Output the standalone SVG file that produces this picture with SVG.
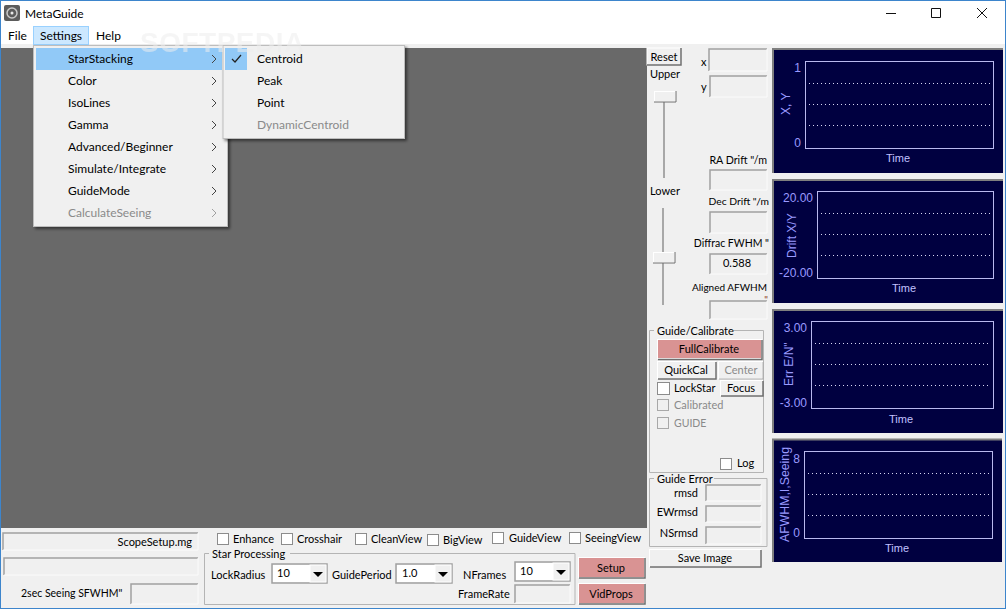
<svg xmlns="http://www.w3.org/2000/svg" width="1006" height="609" viewBox="0 0 1006 609">
<style>
text{font-family:"Lato","Noto Sans","Liberation Sans",sans-serif;font-size:11px;fill:#000}
.m{font-size:12px}
.dis{fill:#8a8a8a}
.e{text-anchor:end}
.c{text-anchor:middle}
.sunk{fill:none;stroke:#a0a0a0;stroke-width:1.5}
.hi{fill:none;stroke:#fbfbfb}
.btn{fill:#f0f0f0;stroke:#fff}
.red{fill:#d99393;stroke:#fff}
.sh{fill:none;stroke:#6e6e6e;stroke-width:1.5}
.grp{fill:none;stroke:#b4b4b4}
.cb{fill:#fff;stroke:#8c8c8c}
.cbd{fill:#f0f0f0;stroke:#a8a8a8}
.pan{fill:#000040}
.pb{fill:none;stroke:#b9b9ee}
.dot{stroke:#d8d8f4;stroke-width:1;stroke-dasharray:1 3}
.ct{font-family:"Liberation Sans",sans-serif;font-size:12px;fill:#9a9aff}
.tm{fill:#c2c2ff;font-size:11px}
.frame{fill:none;stroke:#7f7f7f;stroke-width:2}
.trk{stroke:#a8a8a8;stroke-width:2}
.chev{fill:none;stroke:#444;stroke-width:1}
.arr{fill:#000}
</style>
<defs>
<filter id="sd" x="-5%" y="-5%" width="112%" height="112%"><feDropShadow dx="2" dy="2" stdDeviation="1.5" flood-color="#000" flood-opacity=".5"/></filter>
</defs>
<rect width="1006" height="609" fill="#f0f0f0"/>
<rect x="0" y="0" width="1006" height="44" fill="#fff"/>
<rect x="1" y="48" width="646" height="480" fill="#696969"/>
<rect x=".5" y=".5" width="1005" height="608" fill="none" stroke="#3d85cc"/>
<g id="titlebar">
<rect x="4" y="5" width="16" height="16" rx="2" fill="#5c5c5c"/><circle cx="12" cy="13" r="5" fill="none" stroke="#c9c9c9" stroke-width="1.5"/><circle cx="12" cy="13" r="1.5" fill="#e8e8e8"/>
<text x="25" y="18" style="font-size:12px">MetaGuide</text>
<path d="M886 13.500H896M931.500 8.500H940.500V17.500H931.500ZM977 8L987 18M987 8L977 18" fill="none" stroke="#111" stroke-width="1"/>
</g>
<g id="menubar">
<rect x="33.500" y="26.500" width="55" height="18" fill="#cce8ff" stroke="#99d1ff"/>
<text class="m" x="8" y="40">File</text><text class="m" x="40" y="40">Settings</text><text class="m" x="96" y="40">Help</text>
</g>
<g id="menu-settings">
<rect x="33.500" y="45.500" width="194" height="181" fill="#f0f0f0" stroke="#bdbdbd" filter="url(#sd)"/>
<rect x="36" y="48" width="186" height="22" fill="#91c9f7"/>
<text class="m" x="68" y="63">StarStacking</text><text class="m" x="68" y="85">Color</text><text class="m" x="68" y="107">IsoLines</text><text class="m" x="68" y="129">Gamma</text><text class="m" x="68" y="151">Advanced/Beginner</text><text class="m" x="68" y="173">Simulate/Integrate</text><text class="m" x="68" y="195">GuideMode</text><text class="m dis" x="68" y="217">CalculateSeeing</text>
<path class="chev" d="M212 55L216 59L212 63M212 77L216 81L212 85M212 99L216 103L212 107M212 121L216 125L212 129M212 143L216 147L212 151M212 165L216 169L212 173M212 187L216 191L212 195"/>
<path class="chev" style="stroke:#a0a0a0" d="M212 209L216 213L212 217"/>
</g>
<g id="menu-starstacking">
<rect x="223" y="45.500" width="181.500" height="93" fill="#f0f0f0" stroke="#bdbdbd" filter="url(#sd)"/>
<rect x="225" y="48" width="22" height="22" fill="#91c9f7"/>
<path d="M232 59L235 62L241 55" fill="none" stroke="#222" stroke-width="1.200"/>
<text class="m" x="257" y="63">Centroid</text><text class="m" x="257" y="85">Peak</text><text class="m" x="257" y="107">Point</text><text class="m dis" x="257" y="129">DynamicCentroid</text>
</g>
<text id="watermark" x="140" y="51.500" style="font-family:'Liberation Sans',sans-serif;font-size:28px;font-weight:700;fill:#eeeeee;opacity:.55;letter-spacing:.5px">SOFTPEDIA</text>
<g id="sliders">
<rect x="647" y="48" width="34" height="17" class="btn"/><path class="sh" d="M647 65H681V48"/><text class="c" x="664" y="61">Reset</text>
<text class="c" x="665" y="78">Upper</text>
<line class="trk" x1="664" y1="92" x2="664" y2="178"/><rect x="654.500" y="91.500" width="21" height="10" class="btn"/><path class="sh" d="M654 102H676V91" style="stroke-width:1"/>
<text class="c" x="665" y="195">Lower</text>
<line class="trk" x1="663" y1="208" x2="663" y2="305"/><rect x="653.500" y="252.500" width="21" height="10" class="btn"/><path class="sh" d="M653 263H675V252" style="stroke-width:1"/>
</g>
<g id="readouts">
<text x="701" y="66">x</text><text x="701" y="91">y</text>
<path class="sunk" d="M709 71V49H767M710 97V76H767M710 190V170H767M710 233V212H767M710 274V254H767M710 319V301H767"/>
<path class="hi" d="M709 71H767V49M710 97H767V76M710 190H767V170M710 233H767V212M710 274H767V254M710 319H767V301"/>
<text class="e" x="767" y="164" style="font-size:10.700px">RA Drift "/m</text>
<text class="e" x="769" y="205" style="font-size:10.300px">Dec Drift "/m</text>
<text class="e" x="769" y="247" style="font-size:10.500px">Diffrac FWHM "</text>
<text class="c" x="737" y="267" >0.588</text>
<text class="e" x="767" y="291" style="font-size:10px">Aligned AFWHM</text>
<text class="e" x="768" y="303" style="font-size:10px;fill:#8a3b10">"</text>
</g>
<g id="guide-calibrate">
<path class="grp" d="M654 330.500H649.500V472.500H763.500V330.500H733"/>
<text x="657" y="335">Guide/Calibrate</text>
<rect x="657.500" y="339.500" width="104" height="19" class="red"/><path class="sh" d="M658 359.500H762V340"/><text class="c" x="709" y="353">FullCalibrate</text>
<rect x="657.500" y="361.500" width="58" height="17" class="btn"/><path class="sh" d="M658 379H716V362"/><text class="c" x="686" y="374">QuickCal</text>
<rect x="718.500" y="361.500" width="44" height="17" class="btn"/><path class="sh" style="stroke:#aaa;stroke-width:1" d="M719 379H763V362"/><text class="c dis" x="741" y="374">Center</text>
<rect class="cb" x="657.500" y="382.500" width="12" height="12"/><text x="674" y="392">LockStar</text>
<rect x="720.500" y="380.500" width="42" height="15" class="btn"/><path class="sh" d="M721 396H763V381"/><text class="c" x="741" y="392">Focus</text>
<rect class="cbd" x="657.500" y="399.500" width="11" height="11"/><text class="dis" x="674" y="409">Calibrated</text>
<rect class="cbd" x="657.500" y="417.500" width="11" height="11"/><text class="dis" x="674" y="427" style="font-size:10.500px">GUIDE</text>
<rect class="cb" x="720.500" y="458.500" width="11" height="11"/><text x="737" y="467">Log</text>
</g>
<g id="guide-error">
<path class="grp" d="M654 478.500H649.500V546.500H767V478.500H714"/>
<text x="657" y="483">Guide Error</text>
<text class="e" x="698" y="497">rmsd</text><text class="e" x="698" y="516">EWrmsd</text><text class="e" x="698" y="537">NSrmsd</text>
<path class="sunk" d="M706 501V485H761M706 522V506H761M706 544V527H761"/>
<path class="hi" d="M706 501H761V485M706 522H761V506M706 544H761V527"/>
<rect x="649.500" y="549.500" width="111" height="17" class="btn"/><path class="sh" d="M650 567H761V550"/><text class="c" x="705" y="562">Save Image</text>
</g>
<g id="chart-xy">
<rect x="773" y="49" width="230" height="124" class="pan"/><path class="frame" d="M773 173V49H1003"/>
<rect class="pb" x="805.500" y="61.500" width="188" height="87"/>
<path class="dot" d="M809 83.500H991M809 104.500H991M809 125.500H991"/>
<text class="ct e" x="801" y="72">1</text><text class="ct e" x="801" y="147">0</text>
<text class="ct" transform="translate(790 115) rotate(-90)">X, Y</text>
<text class="ct tm c" x="898" y="162">Time</text>
</g>
<g id="chart-drift">
<rect x="773" y="180" width="230" height="123" class="pan"/><path class="frame" d="M773 303V180H1003"/>
<rect class="pb" x="817.500" y="191.500" width="176" height="87"/>
<path class="dot" d="M821 213.500H991M821 234.500H991M821 255.500H991"/>
<text class="ct e" x="813" y="202">20.00</text><text class="ct e" x="813" y="277">-20.00</text>
<text class="ct" transform="translate(796 258) rotate(-90)">Drift X/Y</text>
<text class="ct tm c" x="904" y="292">Time</text>
</g>
<g id="chart-err">
<rect x="773" y="310" width="230" height="123" class="pan"/><path class="frame" d="M773 433V310H1003"/>
<rect class="pb" x="811.500" y="321.500" width="182" height="87"/>
<path class="dot" d="M815 343.500H991M815 364.500H991M815 385.500H991"/>
<text class="ct e" x="807" y="332">3.00</text><text class="ct e" x="807" y="407">-3.00</text>
<text class="ct" transform="translate(793 386) rotate(-90)">Err E/N"</text>
<text class="ct tm c" x="901" y="423">Time</text>
</g>
<g id="chart-afwhm">
<rect x="773" y="440" width="229" height="122" class="pan"/><path class="frame" d="M773 562V439.500H1002"/>
<rect class="pb" x="804.500" y="451.500" width="188" height="87"/>
<path class="dot" d="M808 473.500H990M808 494.500H990M808 515.500H990"/>
<text class="ct e" x="800" y="463">8</text><text class="ct e" x="800" y="537">0</text>
<text class="ct" transform="translate(789 542) rotate(-90)" style="font-size:12.300px">AFWHM,I,Seeing</text>
<text class="ct tm c" x="897" y="552">Time</text>
</g>
<g id="status">
<path class="sunk" d="M3 550V533H198M4 575V558H198M131 604V584H198"/>
<path class="hi" d="M3 550H198V533M4 575H198V558M131 604H198V584"/>
<text class="e" x="192" y="546">ScopeSetup.mg</text>
<text x="21" y="597" style="font-size:10.500px">2sec Seeing SFWHM"</text>
</g>
<g id="view-options">
<rect class="cb" x="217.500" y="533.500" width="11" height="11"/><text x="233" y="543">Enhance</text>
<rect class="cb" x="281.500" y="533.500" width="11" height="11"/><text x="297" y="543">Crosshair</text>
<rect class="cb" x="355.500" y="533.500" width="11" height="11"/><text x="371" y="543">CleanView</text>
<rect class="cb" x="427.500" y="534.500" width="11" height="11"/><text x="443" y="544">BigView</text>
<rect class="cb" x="492.500" y="532.500" width="11" height="11"/><text x="509" y="542">GuideView</text>
<rect class="cb" x="569.500" y="532.500" width="11" height="11"/><text x="585" y="542">SeeingView</text>
</g>
<g id="star-processing">
<path class="grp" d="M209 553.500H204.500V604.500H575V553.500H290"/>
<text x="212" y="558">Star Processing</text>
<text x="211" y="579">LockRadius</text>
<path class="sunk" d="M272 583V564H327V583Z"/><rect x="273" y="565" width="37" height="17" fill="#fff"/><rect x="310" y="565" width="16" height="17" class="btn"/><path class="arr" d="M313 572H323L318 577Z"/><text x="277" y="577">10</text>
<text x="332" y="579">GuidePeriod</text>
<path class="sunk" d="M396 583V564H452V583Z"/><rect x="397" y="565" width="38" height="17" fill="#fff"/><rect x="435" y="565" width="16" height="17" class="btn"/><path class="arr" d="M438 572H448L443 577Z"/><text x="402" y="577">1.0</text>
<text x="463" y="579">NFrames</text>
<path class="sunk" d="M515 581V562H570V581Z"/><rect x="516" y="563" width="37" height="17" fill="#fff"/><rect x="553" y="563" width="16" height="17" class="btn"/><path class="arr" d="M556 570H566L561 575Z"/><text x="520" y="575">10</text>
<text x="458" y="598">FrameRate</text>
<path class="sunk" d="M515 603V585H570"/><path class="hi" d="M515 603H570V585"/>
</g>
<g id="video-buttons">
<rect x="578.500" y="557.500" width="66" height="20" class="red"/><path class="sh" d="M579 578H645V558"/><text class="c" x="611" y="572">Setup</text>
<rect x="578.500" y="583.500" width="66" height="20" class="red"/><path class="sh" d="M579 604H645V584"/><text class="c" x="611" y="598">VidProps</text>
</g>
</svg>
